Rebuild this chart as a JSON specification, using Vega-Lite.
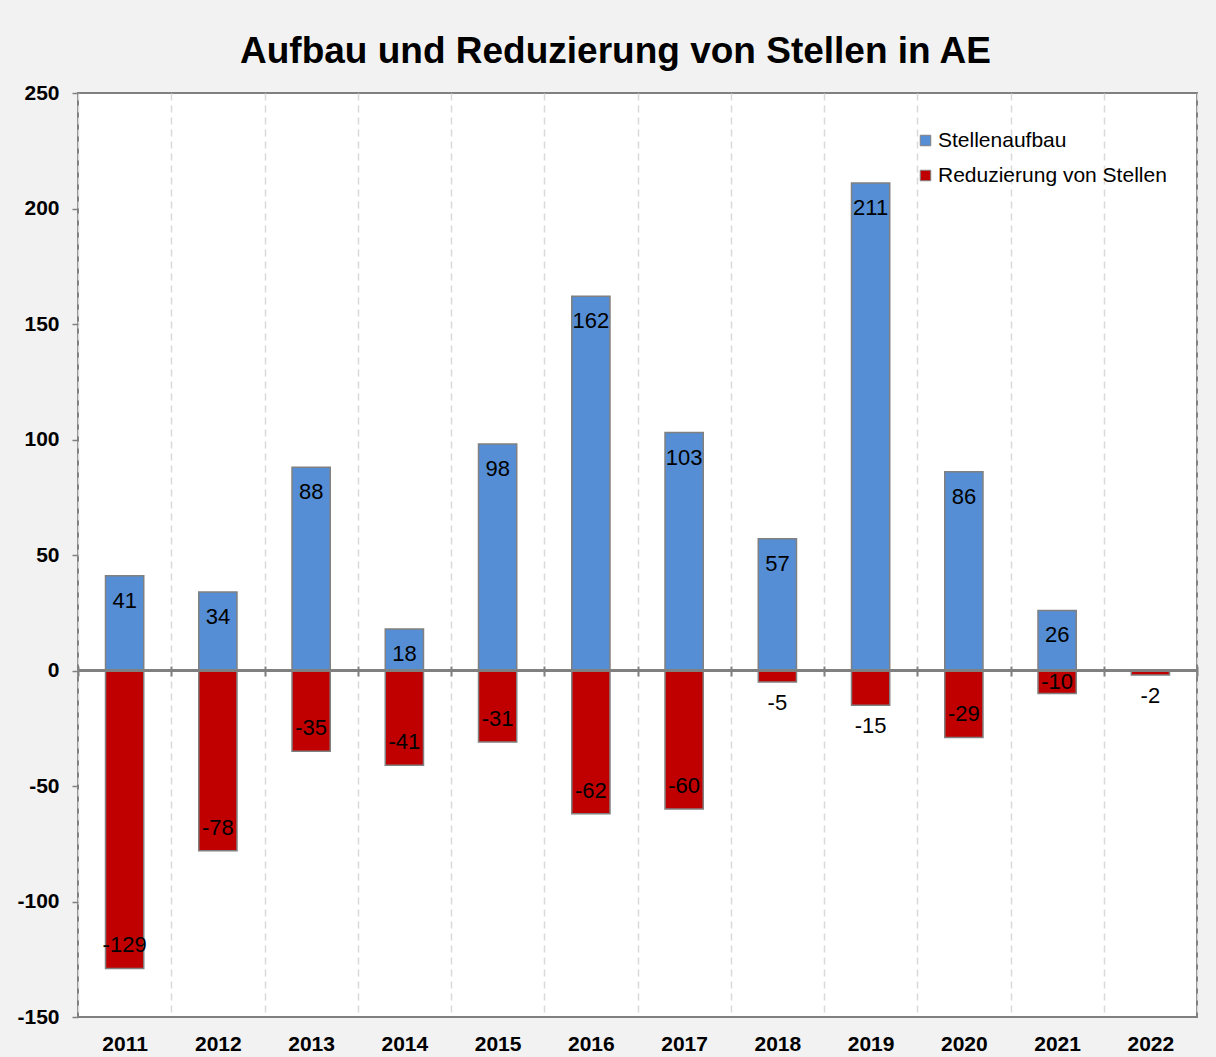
{
  "$schema": "https://vega.github.io/schema/vega-lite/v6.json",
  "autosize": {"type": "none"},
  "width": 1119,
  "height": 924,
  "padding": {"left": 78, "top": 93, "right": 19, "bottom": 40},
  "background": "#f2f2f2",
  "title": {
    "text": "Aufbau und Reduzierung von Stellen in AE",
    "font": "Liberation Sans",
    "fontSize": 37,
    "fontWeight": "bold",
    "color": "#000000",
    "anchor": "middle",
    "dx": -22,
    "offset": 11
  },
  "data": {
    "values": [
      {"year": "2011", "type": "Stellenaufbau", "value": 41},
      {"year": "2012", "type": "Stellenaufbau", "value": 34},
      {"year": "2013", "type": "Stellenaufbau", "value": 88},
      {"year": "2014", "type": "Stellenaufbau", "value": 18},
      {"year": "2015", "type": "Stellenaufbau", "value": 98},
      {"year": "2016", "type": "Stellenaufbau", "value": 162},
      {"year": "2017", "type": "Stellenaufbau", "value": 103},
      {"year": "2018", "type": "Stellenaufbau", "value": 57},
      {"year": "2019", "type": "Stellenaufbau", "value": 211},
      {"year": "2020", "type": "Stellenaufbau", "value": 86},
      {"year": "2021", "type": "Stellenaufbau", "value": 26},
      {"year": "2011", "type": "Reduzierung von Stellen", "value": -129},
      {"year": "2012", "type": "Reduzierung von Stellen", "value": -78},
      {"year": "2013", "type": "Reduzierung von Stellen", "value": -35},
      {"year": "2014", "type": "Reduzierung von Stellen", "value": -41},
      {"year": "2015", "type": "Reduzierung von Stellen", "value": -31},
      {"year": "2016", "type": "Reduzierung von Stellen", "value": -62},
      {"year": "2017", "type": "Reduzierung von Stellen", "value": -60},
      {"year": "2018", "type": "Reduzierung von Stellen", "value": -5},
      {"year": "2019", "type": "Reduzierung von Stellen", "value": -15},
      {"year": "2020", "type": "Reduzierung von Stellen", "value": -29},
      {"year": "2021", "type": "Reduzierung von Stellen", "value": -10},
      {"year": "2022", "type": "Reduzierung von Stellen", "value": -2}
    ]
  },
  "resolve": {"axis": {"x": "independent"}},
  "layer": [
    {
      "mark": {"type": "bar", "width": {"band": 0.41}, "stroke": "#808080", "strokeWidth": 1.5},
      "encoding": {
        "x": {
          "field": "year", "type": "ordinal",
          "scale": {"paddingInner": 0, "paddingOuter": 0},
          "axis": {
            "title": null, "labelAngle": 0, "ticks": false, "domain": false,
            "tickBand": "extent", "grid": true, "gridColor": "#d9d9d9", "gridDash": [7, 5], "gridWidth": 1.5,
            "labelFont": "Liberation Sans", "labelFontSize": 21, "labelFontWeight": "bold", "labelColor": "#000000",
            "labelPadding": 16
          }
        },
        "y": {
          "field": "value", "type": "quantitative", "stack": null,
          "scale": {"domain": [-150, 250], "nice": false, "zero": false},
          "axis": {
            "title": null, "values": [-150, -100, -50, 0, 50, 100, 150, 200, 250],
            "labelExpr": "datum.value + ''",
            "grid": false, "domain": false, "ticks": true, "tickSize": 6, "tickColor": "#808080", "tickWidth": 1.5,
            "labelFont": "Liberation Sans", "labelFontSize": 21, "labelFontWeight": "bold", "labelColor": "#000000",
            "labelPadding": 13
          }
        },
        "color": {
          "field": "type", "type": "nominal",
          "scale": {"domain": ["Stellenaufbau", "Reduzierung von Stellen"], "range": ["#558ed5", "#c00000"]},
          "legend": {
            "title": null, "orient": "none", "legendX": 837, "legendY": 37,
            "symbolType": "square", "symbolSize": 110, "symbolStrokeColor": "#808080", "symbolStrokeWidth": 1,
            "labelFont": "Liberation Sans", "labelFontSize": 21, "labelColor": "#000000", "labelLimit": 0,
            "rowPadding": 13, "labelOffset": 2
          }
        }
      }
    },
    {
      "mark": {"type": "rule", "color": "#808080", "strokeWidth": 2},
      "encoding": {"y": {"datum": 0, "type": "quantitative"}}
    },
    {
      "transform": [{"filter": "datum.type == 'Stellenaufbau'"}],
      "mark": {"type": "text", "font": "Liberation Sans", "fontSize": 22, "color": "#000000", "baseline": "middle", "dy": 25},
      "encoding": {
        "x": {
          "field": "year", "type": "ordinal",
          "axis": {"orient": "top", "title": null, "labels": false, "domain": false, "grid": false, "ticks": true, "tickBand": "extent",
                   "tickSize": 10, "tickColor": "#808080", "tickWidth": 2, "offset": -583}
        },
        "y": {"field": "value", "type": "quantitative"},
        "text": {"field": "value", "type": "nominal"}
      }
    },
    {
      "transform": [{"filter": "datum.type != 'Stellenaufbau' && indexof(['2018','2019','2021','2022'], datum.year) < 0"}],
      "mark": {"type": "text", "font": "Liberation Sans", "fontSize": 22, "color": "#000000", "baseline": "middle", "dy": -23},
      "encoding": {
        "x": {"field": "year", "type": "ordinal", "axis": null},
        "y": {"field": "value", "type": "quantitative"},
        "text": {"field": "value", "type": "nominal"}
      }
    },
    {
      "transform": [{"filter": "datum.type != 'Stellenaufbau' && indexof(['2018','2019','2022'], datum.year) >= 0"}],
      "mark": {"type": "text", "font": "Liberation Sans", "fontSize": 22, "color": "#000000", "baseline": "middle", "dy": 21},
      "encoding": {
        "x": {"field": "year", "type": "ordinal", "axis": null},
        "y": {"field": "value", "type": "quantitative"},
        "text": {"field": "value", "type": "nominal"}
      }
    },
    {
      "transform": [{"filter": "datum.type != 'Stellenaufbau' && datum.year == '2021'"}],
      "mark": {"type": "text", "font": "Liberation Sans", "fontSize": 22, "color": "#000000", "baseline": "middle", "dy": -12},
      "encoding": {
        "x": {"field": "year", "type": "ordinal", "axis": null},
        "y": {"field": "value", "type": "quantitative"},
        "text": {"field": "value", "type": "nominal"}
      }
    }
  ],
  "config": {
    "view": {"fill": "#ffffff", "stroke": "#808080", "strokeWidth": 2}
  }
}
